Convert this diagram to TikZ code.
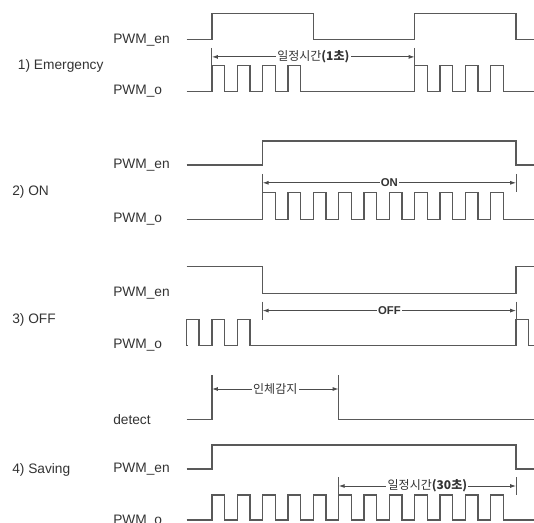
\documentclass[tikz,border=0pt]{standalone}
\usepackage{fontspec}
\setmainfont{Liberation Sans}
\newfontfamily\krfont{Noto Sans CJK KR}
\usetikzlibrary{arrows.meta}

\newcommand{\pw}{12.6}
\newcommand{\pulsetrain}[4]{%
	\draw[wave] (#1,#2) \foreach \k in {#4}{
		-- ({tx(\k)},#2) -- ({tx(\k)},#3) -- ({tx(\k)+\pw},#3) -- ({tx(\k)+\pw},#2)
	} -- (534,#2);
}

\tikzset{
	wave/.style={draw=black!65,line width=1pt},
	dimtick/.style={draw=black!65,line width=0.8pt},
	dim/.style={draw=black!70,line width=0.7pt,{Latex[length=4.5pt,width=3pt]}-{Latex[length=4.5pt,width=3pt]}},
	dimtext/.style={fill=white,inner sep=1pt,text=black!80,font=\krfont\fontsize{9}{10}\selectfont},
	ontext/.style={dimtext,font=\bfseries\fontsize{8.5}{10}\selectfont},
	siglabel/.style={anchor=west,inner sep=0pt,text=black!80,font=\fontsize{10.3}{12}\selectfont},
}

\begin{document}
\begin{tikzpicture}[x=0.75pt,y=-0.75pt,declare function={tx(\k)=211.9+25.35*\k;}]
	\useasboundingbox (0,0) rectangle (534,523);

	% 1) Emergency
	\node[siglabel] (sec1) at (17.7,65.7) {1) Emergency};
	\node[siglabel] (en1) at (113,39.8) {PWM\_en};
	\node[siglabel] (o1) at (113,91.3) {PWM\_o};
	\draw[wave] (186.6,39.8) -| ({tx(0)},13.6) -| ({tx(4)},39.8) -| ({tx(8)},13.6) -| ({tx(12)},39.8) -- (534,39.8);
	\pulsetrain{186.6}{91.3}{65.7}{0,1,2,3,8,9,10,11}
	\coordinate (d1a) at ({tx(0)},56.9);
	\coordinate (d1b) at ({tx(8)},56.9);
	\draw[dimtick] (d1a) ++(0,-9) -- ++(0,18);
	\draw[dimtick] (d1b) ++(0,-9) -- ++(0,18);
	\draw[dim] (d1a) -- node[dimtext]{일정시간\textbf{(1초)}} (d1b);

	% 2) ON
	\node[siglabel] (sec2) at (12,192.3) {2) ON};
	\node[siglabel] (en2) at (113,165.1) {PWM\_en};
	\node[siglabel] (o2) at (113,219.2) {PWM\_o};
	\draw[wave] (186.6,165.1) -| ({tx(2)},140.9) -| ({tx(12)},165.1) -- (534,165.1);
	\pulsetrain{186.6}{219.2}{192.3}{2,...,11}
	\coordinate (d2a) at ({tx(2)},182.8);
	\coordinate (d2b) at ({tx(12)},182.8);
	\draw[dimtick] (d2a) ++(0,-9) -- ++(0,18);
	\draw[dimtick] (d2b) ++(0,-9) -- ++(0,18);
	\draw[dim] (d2a) -- node[ontext]{ON} (d2b);

	% 3) OFF
	\node[siglabel] (sec3) at (12,319.8) {3) OFF};
	\node[siglabel] (en3) at (113,293.3) {PWM\_en};
	\node[siglabel] (o3) at (113,345.4) {PWM\_o};
	\draw[wave] (186.6,266.3) -| ({tx(2)},293.3) -| ({tx(12)},266.3) -- (534,266.3);
	\pulsetrain{186.6}{345.4}{319.8}{-1,0,1,12}
	\coordinate (d3a) at ({tx(2)},310.6);
	\coordinate (d3b) at ({tx(12)},310.6);
	\draw[dimtick] (d3a) ++(0,-9) -- ++(0,18);
	\draw[dimtick] (d3b) ++(0,-9) -- ++(0,18);
	\draw[dim] (d3a) -- node[ontext]{OFF} (d3b);

	% 4) Saving
	\node[siglabel] (sec4) at (12,470) {4) Saving};
	\node[siglabel] (det4) at (113,419.3) {detect};
	\node[siglabel] (en4) at (113,469) {PWM\_en};
	\node[siglabel] (o4) at (113,521) {PWM\_o};
	\draw[wave] (186.6,419.3) -- ({tx(0)},419.3) -- ({tx(0)},375);
	\draw[wave] ({tx(5)},375) -- ({tx(5)},419.3) -- (534,419.3);
	\draw[wave] (186.6,469) -| ({tx(0)},445) -| ({tx(12)},469) -- (534,469);
	\pulsetrain{186.6}{520}{495}{0,...,11}
	\coordinate (d4a) at ({tx(0)},389);
	\coordinate (d4b) at ({tx(5)},389);
	\draw[dim] (d4a) -- node[dimtext]{인체감지} (d4b);
	\coordinate (d5a) at ({tx(5)},486);
	\coordinate (d5b) at ({tx(12)},486);
	\draw[dimtick] (d5a) ++(0,-9) -- ++(0,18);
	\draw[dimtick] (d5b) ++(0,-9) -- ++(0,18);
	\draw[dim] (d5a) -- node[dimtext]{일정시간\textbf{(30초)}} (d5b);
\end{tikzpicture}
\end{document}
